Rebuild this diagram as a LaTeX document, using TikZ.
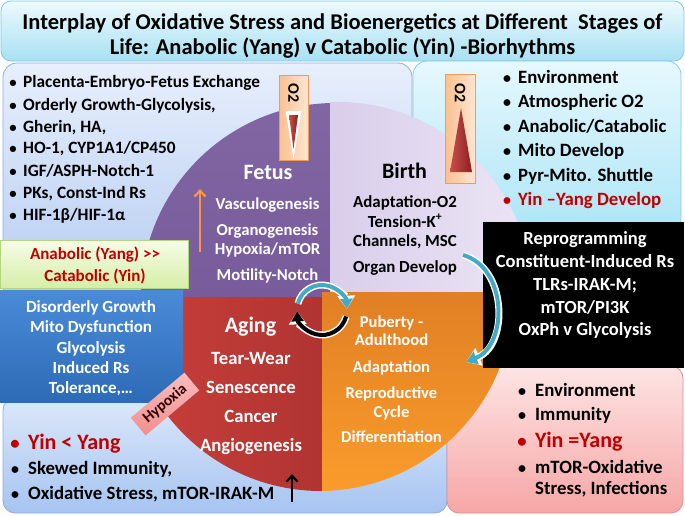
\documentclass[tikz,border=0pt]{standalone}
\usepackage{fontspec}
\setmainfont{Carlito}
\usetikzlibrary{arrows.meta,calc}
\newcommand\myfs[1]{\fontsize{#1}{#1}\selectfont}
\newcommand\bdot{\scalebox{0.85}{•}}
\definecolor{darkred}{HTML}{C00000}
\definecolor{tealc}{HTML}{45A9C2}
\definecolor{orangea}{HTML}{F79646}
\definecolor{ttA}{HTML}{EDF9FD}\definecolor{ttB}{HTML}{A8E1F3}\definecolor{ttD}{HTML}{7FCBE6}
\definecolor{tlA}{HTML}{E8EFFC}\definecolor{tlB}{HTML}{B3CBF1}\definecolor{tlD}{HTML}{8EAEDF}
\definecolor{trA}{HTML}{E6F8FD}\definecolor{trB}{HTML}{A4E2F5}\definecolor{trD}{HTML}{86C9E3}
\definecolor{blA}{HTML}{DCE8FA}\definecolor{blB}{HTML}{A6C4F1}
\definecolor{pkA}{HTML}{FDE4E4}\definecolor{pkB}{HTML}{F6A6A6}\definecolor{pkD}{HTML}{E38E8E}
\definecolor{anA}{HTML}{F7FCE8}\definecolor{anB}{HTML}{D6EEA8}\definecolor{anD}{HTML}{B4D67C}
\definecolor{buA}{HTML}{4A8BD7}\definecolor{buB}{HTML}{2E6BB7}
\definecolor{fetA}{HTML}{8266A4}\definecolor{fetB}{HTML}{6D5090}
\definecolor{birA}{HTML}{C8B8E1}\definecolor{birB}{HTML}{ECE5F5}
\definecolor{agA}{HTML}{C9403B}\definecolor{agB}{HTML}{982828}
\definecolor{puA}{HTML}{C8641C}\definecolor{puB}{HTML}{FA9C2C}
\definecolor{o2A}{HTML}{FAC090}\definecolor{o2B}{HTML}{FDE6D2}\definecolor{o2D}{HTML}{F39A55}
\definecolor{trgA}{HTML}{C4504A}\definecolor{trgB}{HTML}{8E1F1F}
\definecolor{hyA}{HTML}{F9BDBD}\definecolor{hyB}{HTML}{F08E8E}
\begin{document}
\begin{tikzpicture}[x=1pt,y=-1pt,
  every node/.style={inner sep=0pt},
  ctext/.style={anchor=base, font=\bfseries\myfs{#1}},
  ltext/.style={anchor=base west, font=\bfseries\myfs{#1}},
  o2box/.style={left color=o2A, right color=o2B, draw=o2D, line width=0.9pt},
  arrw/.style={line width=7pt, white},
  arrc/.style={line width=4pt},
  stick/.style={line width=2.2pt, -{Straight Barb[length=6pt,width=11pt]}}
  ]
\useasboundingbox (0,0) rectangle (685,515);
\fill[white] (0,0) rectangle (685,515);
% ---------- background boxes
\shadedraw[top color=ttA, bottom color=ttB, draw=ttD, line width=0.8pt, rounded corners=10pt] (1,1) rectangle (684,61);
\shadedraw[top color=tlA, bottom color=tlB, draw=tlD, line width=0.8pt, rounded corners=14pt] (3,63) rectangle (412,300);
\shadedraw[top color=trA, bottom color=trB, draw=trD, line width=0.8pt, rounded corners=14pt] (413,61) rectangle (681,262);
\shadedraw[top color=blA, bottom color=blB, draw=tlD, line width=0.8pt, rounded corners=12pt] (3,398) rectangle (447,513);
\shadedraw[top color=pkA, bottom color=pkB, draw=pkD, line width=0.8pt, rounded corners=12pt] (447,366) rectangle (683,513);
% ---------- circle quadrants
\begin{scope}\clip (0,0) rectangle (330,297);
\shade[top color=fetA, bottom color=fetB] (335,297) circle[radius=194];\end{scope}
\begin{scope}\clip (330,0) rectangle (685,292);
\shade[left color=birA, right color=birB] (338,296) circle[radius=194];\end{scope}
\begin{scope}\clip (0,297) rectangle (322,515);
\shade[left color=agA, right color=agB] (321,297) circle[radius=194];\end{scope}
\begin{scope}\clip (322,292) rectangle (685,515);
\shade[top color=puA, bottom color=puB] (319,297) circle[radius=194];\end{scope}
% ---------- O2 boxes
\draw[o2box] (279,75) rectangle (308,160);
\node[rotate=-90, font=\bfseries\myfs{16}] (o2l) at (293.5,93) {O2};
\fill[white] (285.5,111) -- (301.5,111) -- (293.5,159) -- cycle;
\shade[left color=trgA, right color=trgB] (289,115) -- (298,115) -- (293.5,149) -- cycle;
\draw[o2box] (445,74) rectangle (475,183);
\node[rotate=-90, font=\bfseries\myfs{16}] (o2r) at (460,93) {O2};
\shade[left color=trgA, right color=trgB] (461,108) -- (472,172) -- (450,172) -- cycle;
% ---------- side boxes
\shadedraw[top color=anA, bottom color=anB, draw=anD, line width=0.8pt] (0,240) rectangle (188,288);
\shade[top color=buA, bottom color=buB] (0,290) rectangle (183,402);
\fill[black] (483,222) rectangle (684,368);
\node[rotate=40, minimum width=70pt, minimum height=23pt, top color=hyA, bottom color=hyB,
      font=\bfseries\myfs{15.5}, text=black!80!red] (hyp) at (165,404) {Hypoxia};
% ---------- title
\node[ctext=22.5] (t1) at (342.5,29) {Interplay of Oxidative Stress and Bioenergetics at Different\ \ Stages of};
\node[ctext=22.5] (t2) at (342.5,54) {Life: Anabolic (Yang) v Catabolic (Yin) -Biorhythms};
% ---------- top-left bullets
\foreach \y/\t [count=\i] in {87/{Placenta-Embryo-Fetus Exchange}, 110/{Orderly Growth-Glycolysis,},
  132/{Gherin, HA,}, 153/{HO-1, CYP1A1/CP450}, 176/{IGF/ASPH-Notch-1}, 198/{PKs, Const-Ind Rs},
  220/{HIF-1β/HIF-1α}} {
  \node[ctext=17.3] (tlb\i) at (13,\y) {\bdot};
  \node[ltext=17.3] (tlt\i) at (23,\y) {\t};
}
% ---------- top-right bullets
\foreach \y/\t [count=\i] in {83/Environment, 107/{Atmospheric O2}, 132/{Anabolic/Catabolic},
  156/{Mito Develop}, 181/{Pyr-Mito. Shuttle}} {
  \node[ctext=18.8] (trb\i) at (507,\y) {\bdot};
  \node[ltext=18.8] (trt\i) at (518,\y) {\t};
}
\node[ctext=18.8, text=darkred] (trb6) at (507,205) {\bdot};
\node[ltext=18.8, text=darkred] (trt6) at (518,205) {Yin –Yang Develop};
% ---------- black box
\foreach \y/\t [count=\i] in {244/Reprogramming, 267/{Constituent-Induced Rs}, 290/{TLRs-IRAK-M;},
  313/{mTOR/PI3K}, 335/{OxPh v Glycolysis}} {
  \node[ctext=18.5, text=white] (bk\i) at (585,\y) {\t};
}
% ---------- pink box
\node[ctext=18.8] (pkb1) at (522,396) {\bdot};
\node[ltext=18.8] (pkt1) at (535,396) {Environment};
\node[ctext=18.8] (pkb2) at (522,420) {\bdot};
\node[ltext=18.8] (pkt2) at (535,420) {Immunity};
\node[ctext=22, text=darkred] (pkb3) at (522,447) {\bdot};
\node[ltext=22, text=darkred] (pkt3) at (535,447) {Yin =Yang};
\node[ctext=18.8] (pkb4) at (522,473) {\bdot};
\node[ltext=18.8] (pkt4) at (535,473) {mTOR-Oxidative};
\node[ltext=18.8] (pkt5) at (535,494) {Stress, Infections};
% ---------- bottom-left bullets
\node[ctext=22, text=darkred] (blb1) at (15,449) {\bdot};
\node[ltext=22, text=darkred] (blt1) at (28,449) {Yin < Yang};
\node[ctext=18.8] (blb2) at (15,474) {\bdot};
\node[ltext=18.8] (blt2) at (28,474) {Skewed Immunity,};
\node[ctext=18.8] (blb3) at (15,499) {\bdot};
\node[ltext=18.8] (blt3) at (28,499) {Oxidative Stress, mTOR-IRAK-M};
% ---------- blue box
\foreach \y/\t [count=\i] in {312/{Disorderly Growth}, 332/{Mito Dysfunction}, 353/Glycolysis,
  373/{Induced Rs}, 393/{Tolerance,…}} {
  \node[ctext=17, text=white] (bu\i) at (91,\y) {\t};
}
% ---------- anabolic box
\node[ctext=17, text=darkred] (an1) at (95,259) {Anabolic (Yang) {>}{>}};
\node[ctext=17, text=darkred] (an2) at (95,281) {Catabolic (Yin)};
% ---------- quadrant texts
\node[ctext=22, text=white] (fet) at (268,179) {Fetus};
\foreach \y/\t [count=\i] in {209/Vasculogenesis, 235/Organogenesis, 254/{Hypoxia/mTOR}, 280/{Motility-Notch}} {
  \node[ctext=16.7, text=white] (fe\i) at (267.5,\y) {\t};
}
\node[ctext=22] (bir) at (404.5,178) {Birth};
\foreach \y/\t [count=\i] in {207/{Adaptation-O2}, 227/{Tension-K\textsuperscript{+}}, 246/{Channels, MSC}, 272/{Organ Develop}} {
  \node[ctext=16.9] (bi\i) at (405,\y) {\t};
}
\node[ctext=22, text=white] (agi) at (250.5,332) {Aging};
\foreach \y/\t [count=\i] in {364/{Tear-Wear}, 393/Senescence, 422/Cancer, 451/Angiogenesis} {
  \node[ctext=18.7, text=white] (ag\i) at (251,\y) {\t};
}
\foreach \y/\t [count=\i] in {327/{Puberty -}, 345/Adulthood, 372/Adaptation, 398/Reproductive, 417/Cycle, 442/Differentiation} {
  \node[ctext=16.6, text=white] (pu\i) at (391.5,\y) {\t};
}
% ---------- arrows
\coordinate (oa1) at (200,252); \coordinate (oa2) at (200,189);
\draw[stick, orangea] (oa1) -- (oa2);
\coordinate (ka1) at (292,502); \coordinate (ka2) at (292,474);
\draw[stick, black] (ka1) -- (ka2);
\coordinate (cc) at (322,310);
\coordinate (ct1) at ($(cc)+(-165:25)$);
\coordinate (cb1) at ($(cc)+(15:25)$);
\draw[arrw, -{Triangle[length=13pt,width=17pt]}] (ct1) arc[start angle=-165, end angle=-3, radius=25];
\draw[arrc, tealc, -{Triangle[length=10pt,width=12pt]}] (ct1) arc[start angle=-165, end angle=-3, radius=25];
\draw[arrw, -{Triangle[length=13pt,width=17pt]}] (cb1) arc[start angle=15, end angle=177, radius=25];
\draw[arrc, black, -{Triangle[length=10pt,width=12pt]}] (cb1) arc[start angle=15, end angle=177, radius=25];
\coordinate (ra1) at (463,255); \coordinate (ra2) at (466,362);
\draw[arrw, -{Triangle[length=14pt,width=18pt]}] (ra1) .. controls (508,268) and (508,345) .. (ra2);
\draw[arrc, tealc, -{Triangle[length=11pt,width=13pt]}] (ra1) .. controls (508,268) and (508,345) .. (ra2);
\end{tikzpicture}
\end{document}
